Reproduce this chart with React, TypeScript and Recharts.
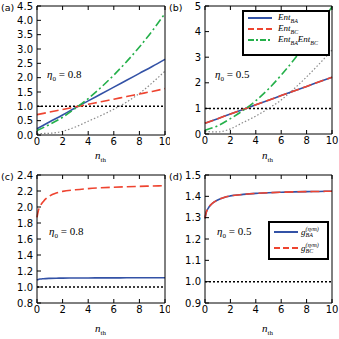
import React from "react";
import { LineChart, Line, XAxis, YAxis, ReferenceLine } from "recharts";

// x values (thermal photon number n_th)
const nAB = [0, 1, 2, 3, 4, 5, 6, 7, 8, 9, 10];
const nCD = [0, 0.1, 0.25, 0.5, 1, 1.5, 2, 3, 4, 5, 6, 7, 8, 9, 10];
const xTicks = [0, 2, 4, 6, 8, 10];

// (a) eta0 = 0.8
const entBA_a = [0.22, 0.46, 0.7, 0.95, 1.19, 1.43, 1.67, 1.91, 2.15, 2.39, 2.64];
const entBC_a = [0.71, 0.8, 0.89, 0.98, 1.07, 1.16, 1.25, 1.34, 1.43, 1.52, 1.62];
const prod_a = [0.16, 0.37, 0.62, 0.93, 1.27, 1.66, 2.09, 2.56, 3.07, 3.63, 4.24];
const gray_a = [0.05, 0.06, 0.13, 0.28, 0.48, 0.68, 0.9, 1.15, 1.45, 1.82, 2.23];
const yTicksA = [0, 0.5, 1, 1.5, 2, 2.5, 3, 3.5, 4, 4.5];

// (b) eta0 = 0.5
const entBA_b = [0.42, 0.6, 0.78, 0.96, 1.14, 1.32, 1.5, 1.68, 1.86, 2.04, 2.22];
const entBC_b = [0.42, 0.6, 0.78, 0.96, 1.14, 1.32, 1.5, 1.68, 1.86, 2.04, 2.22];
const prod_b = [0.15, 0.32, 0.6, 0.92, 1.3, 1.76, 2.3, 2.9, 3.55, 4.25, 4.97];
const gray_b = [0.1, 0.08, 0.2, 0.45, 0.7, 1.0, 1.33, 1.76, 2.23, 2.74, 3.28];
const yTicksB = [0, 1, 2, 3, 4, 5];

// (c) eta0 = 0.8
const gBA_c = [1.088, 1.095, 1.1, 1.104, 1.108, 1.11, 1.111, 1.112, 1.113, 1.114, 1.114, 1.115, 1.115, 1.116, 1.116];
const gBC_c = [1.87, 1.95, 2.01, 2.07, 2.14, 2.175, 2.195, 2.215, 2.23, 2.24, 2.247, 2.253, 2.258, 2.262, 2.266];
const yTicksC = [0.8, 1.0, 1.2, 1.4, 1.6, 1.8, 2.0, 2.2, 2.4];

// (d) eta0 = 0.5
const gBA_d = [1.297, 1.325, 1.344, 1.363, 1.383, 1.395, 1.402, 1.409, 1.414, 1.417, 1.419, 1.421, 1.422, 1.423, 1.424];
const gBC_d = [1.297, 1.325, 1.344, 1.363, 1.383, 1.395, 1.402, 1.409, 1.414, 1.417, 1.419, 1.421, 1.422, 1.423, 1.424];
const yTicksD = [0.9, 1.0, 1.1, 1.2, 1.3, 1.4, 1.5];

const BLUE = "#3352a6";
const RED = "#ee4430";
const GREEN = "#24b04a";
const GRAY = "#8a8a8a";
const SANS = "DejaVu Sans";
const SERIF = "Liberation Serif";

const rows = (xs: number[], cols: Record<string, number[]>) =>
  xs.map((n, i) => {
    const r: Record<string, number> = { n };
    Object.keys(cols).forEach((k) => (r[k] = cols[k][i]));
    return r;
  });

const dataA = rows(nAB, { ba: entBA_a, bc: entBC_a, pr: prod_a, gr: gray_a });
const dataB = rows(nAB, { ba: entBA_b, bc: entBC_b, pr: prod_b, gr: gray_b });
const dataC = rows(nCD, { ba: gBA_c, bc: gBC_c });
const dataD = rows(nCD, { ba: gBA_d, bc: gBC_d });

type SeriesDef = { key: string; color: string; dash?: string; width?: number };

const entSeries: SeriesDef[] = [
  { key: "gr", color: GRAY, dash: "1.5 2", width: 1.2 },
  { key: "ba", color: BLUE },
  { key: "bc", color: RED, dash: "9 4" },
  { key: "pr", color: GREEN, dash: "8 3 2 3" },
];
const gSeries: SeriesDef[] = [
  { key: "ba", color: BLUE },
  { key: "bc", color: RED, dash: "9 4" },
];

const tickFont = { fontSize: 10, fill: "#000", fontFamily: SANS };

function Panel(props: {
  left: number;
  top: number;
  width: number;
  height: number;
  mTop: number;
  mRight: number;
  yW: number;
  xH: number;
  data: Record<string, number>[];
  domain: [number, number];
  yTicks: number[];
  fmt: (v: number) => string;
  series: SeriesDef[];
}) {
  const { left, top, width, height, mTop, mRight, yW, xH, data, domain, yTicks, fmt, series } = props;
  return (
    <div style={{ position: "absolute", left, top }}>
      <LineChart width={width} height={height} data={data} margin={{ top: mTop, right: mRight, bottom: 0, left: 0 }}>
        <XAxis
          xAxisId="b"
          dataKey="n"
          type="number"
          domain={[0, 10]}
          ticks={xTicks}
          height={xH}
          tickSize={-4}
          tickMargin={7}
          tick={tickFont}
          stroke="#000"
          tickLine={{ stroke: "#000" }}
        />
        <XAxis
          xAxisId="t"
          orientation="top"
          dataKey="n"
          type="number"
          domain={[0, 10]}
          ticks={xTicks}
          height={1}
          tickSize={-4}
          tickFormatter={() => ""}
          stroke="#000"
        />
        <YAxis
          yAxisId="l"
          domain={domain}
          ticks={yTicks}
          width={yW}
          tickSize={-4}
          tickMargin={8}
          tick={tickFont}
          tickFormatter={fmt}
          stroke="#000"
          interval={0}
        />
        <YAxis
          yAxisId="r"
          orientation="right"
          domain={domain}
          ticks={yTicks}
          width={1}
          tickSize={-4}
          tickFormatter={() => ""}
          stroke="#000"
          interval={0}
        />
        <ReferenceLine xAxisId="b" yAxisId="l" y={1} stroke="#000" strokeWidth={1.5} strokeDasharray="2 2" />
        {series.map((s) => (
          <Line
            key={s.key}
            xAxisId="b"
            yAxisId="l"
            dataKey={s.key}
            type="monotone"
            stroke={s.color}
            strokeWidth={s.width ?? 1.6}
            strokeDasharray={s.dash}
            dot={false}
            isAnimationActive={false}
          />
        ))}
      </LineChart>
    </div>
  );
}

const txt = (x: number, y: number, children: React.ReactNode, extra: React.CSSProperties = {}) => (
  <div style={{ position: "absolute", left: x, top: y, whiteSpace: "nowrap", lineHeight: 1, ...extra }}>{children}</div>
);

const Eta = ({ x, y, v }: { x: number; y: number; v: string }) =>
  txt(
    x,
    y,
    <span>
      <i>η</i>
      <sub style={{ fontSize: 7 }}>0</sub> = {v}
    </span>,
    { fontFamily: SERIF, fontSize: 11 }
  );

const NLabel = ({ x, y }: { x: number; y: number }) =>
  txt(
    x,
    y,
    <span>
      <i>n</i>
      <sub style={{ fontSize: 7 }}>th</sub>
    </span>,
    { fontFamily: SERIF, fontSize: 11 }
  );

const LegendLine = ({ color, dash }: { color: string; dash?: string }) => (
  <svg width={24} height={6} style={{ display: "block" }}>
    <line x1={0} y1={3} x2={24} y2={3} stroke={color} strokeWidth={2} strokeDasharray={dash} />
  </svg>
);

const Sub = ({ t }: { t: string }) => <sub style={{ fontSize: 6 }}>{t}</sub>;

export default function App() {
  return (
    <div style={{ position: "absolute", left: 0, top: 0, width: 339, height: 339, background: "#fff", overflow: "hidden" }}>
      <Panel left={0} top={0} width={170} height={170} mTop={5} mRight={4} yW={37} xH={35} data={dataA} domain={[0, 4.5]} yTicks={yTicksA} fmt={(v) => v.toFixed(1)} series={entSeries} />
      <Panel left={170} top={0} width={169} height={170} mTop={5} mRight={6} yW={35} xH={36} data={dataB} domain={[0, 5]} yTicks={yTicksB} fmt={(v) => String(v)} series={entSeries} />
      <Panel left={0} top={165} width={170} height={174} mTop={9} mRight={4} yW={37} xH={36} data={dataC} domain={[0.8, 2.4]} yTicks={yTicksC} fmt={(v) => v.toFixed(1)} series={gSeries} />
      <Panel left={170} top={165} width={169} height={174} mTop={9} mRight={6} yW={35} xH={36} data={dataD} domain={[0.9, 1.5]} yTicks={yTicksD} fmt={(v) => v.toFixed(1)} series={gSeries} />

      {txt(1, 3, "(a)", { fontFamily: SANS, fontSize: 9.5 })}
      {txt(169, 3, "(b)", { fontFamily: SANS, fontSize: 9.5 })}
      {txt(1, 172, "(c)", { fontFamily: SANS, fontSize: 9.5 })}
      {txt(169, 172, "(d)", { fontFamily: SANS, fontSize: 9.5 })}

      <Eta x={47} y={69} v="0.8" />
      <Eta x={215} y={69} v="0.5" />
      <Eta x={49} y={226} v="0.8" />
      <Eta x={217} y={226} v="0.5" />

      <NLabel x={95} y={150} />
      <NLabel x={262} y={150} />
      <NLabel x={95} y={323} />
      <NLabel x={262} y={323} />

      <div style={{ position: "absolute", left: 242, top: 10, width: 84, height: 42, border: "2px solid #000", background: "#fff", fontFamily: SERIF, fontSize: 9, fontStyle: "italic" }}>
        {[
          { c: BLUE, d: undefined, t: <span>Ent<Sub t="BA" /></span> },
          { c: RED, d: "6 3", t: <span>Ent<Sub t="BC" /></span> },
          { c: GREEN, d: "6 2 2 2", t: <span>Ent<Sub t="BA" />Ent<Sub t="BC" /></span> },
        ].map((r, i) => (
          <div key={i} style={{ position: "absolute", left: 4, top: 1 + i * 11, display: "flex", alignItems: "center", height: 10 }}>
            <LegendLine color={r.c} dash={r.d} />
            <span style={{ marginLeft: 6, lineHeight: 1 }}>{r.t}</span>
          </div>
        ))}
      </div>

      <div style={{ position: "absolute", left: 268, top: 221, width: 57, height: 35, border: "2px solid #000", background: "#fff", fontFamily: SERIF, fontSize: 9, fontStyle: "italic" }}>
        {[
          { c: BLUE, d: undefined, s: "BA" },
          { c: RED, d: "6 3", s: "BC" },
        ].map((r, i) => (
          <div key={i} style={{ position: "absolute", left: 4, top: 3 + i * 16, display: "flex", alignItems: "center", height: 12 }}>
            <LegendLine color={r.c} dash={r.d} />
            <span style={{ marginLeft: 3, lineHeight: 1, display: "inline-flex", alignItems: "center" }}>
              g
              <span style={{ display: "inline-flex", flexDirection: "column", fontSize: 6, lineHeight: 1 }}>
                <span>(sym)</span>
                <span>{r.s}</span>
              </span>
            </span>
          </div>
        ))}
      </div>
    </div>
  );
}
